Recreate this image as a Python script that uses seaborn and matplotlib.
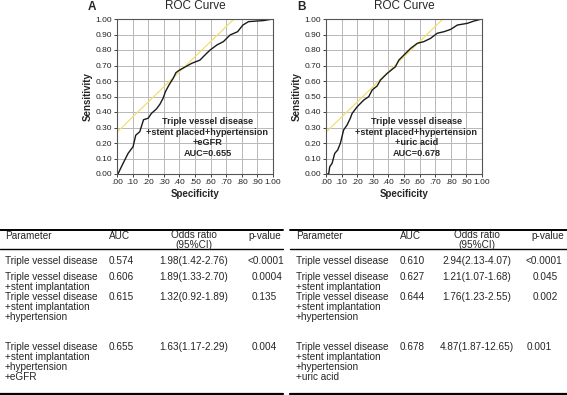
import numpy as np
import pandas as pd
import matplotlib
matplotlib.use("Agg")
import matplotlib.pyplot as plt
import seaborn as sns

sns.set_theme(style="white")
plt.rcParams['font.family'] = ['Liberation Sans', 'DejaVu Sans']

# ROC curve A (tvd + stent + hypertension + eGFR)
roc_a_x = [0.0, 0.006, 0.039, 0.071, 0.103, 0.12, 0.146, 0.17, 0.20, 0.22, 0.253, 0.275,
           0.296, 0.31, 0.333, 0.36, 0.378, 0.40, 0.436, 0.479, 0.532, 0.564, 0.597,
           0.64, 0.682, 0.725, 0.773, 0.807, 0.843, 0.94, 1.0]
roc_a_y = [0.0, 0.0, 0.069, 0.133, 0.176, 0.25, 0.273, 0.35, 0.36, 0.39, 0.42, 0.45,
           0.49, 0.53, 0.574, 0.617, 0.654, 0.67, 0.69, 0.714, 0.735, 0.768, 0.80,
           0.832, 0.854, 0.897, 0.918, 0.961, 0.983, 0.99, 1.0]
# ROC curve B (tvd + stent + hypertension + uric acid)
roc_b_x = [0.0, 0.017, 0.024, 0.039, 0.056, 0.075, 0.092, 0.113, 0.135, 0.156, 0.167,
           0.20, 0.242, 0.274, 0.296, 0.328, 0.349, 0.392, 0.445, 0.467, 0.51, 0.542,
           0.585, 0.627, 0.67, 0.713, 0.756, 0.799, 0.842, 0.906, 0.949, 1.0]
roc_b_y = [0.0, 0.0, 0.047, 0.069, 0.133, 0.155, 0.198, 0.284, 0.316, 0.36, 0.39,
           0.434, 0.477, 0.499, 0.542, 0.568, 0.606, 0.649, 0.692, 0.735, 0.778, 0.81,
           0.843, 0.854, 0.875, 0.908, 0.918, 0.933, 0.961, 0.972, 0.987, 1.0]
ref_x = [0.0, 0.75]
ref_y_a = [0.27, 1.0]
ref_y_b = [0.27, 1.0]

panel_letters = ["A", "B"]
panel_labels = ["Triple vessel disease\n+stent placed+hypertension\n+eGFR\nAUC=0.655",
                "Triple vessel disease\n+stent placed+hypertension\n+uric acid\nAUC=0.678"]
tick_vals = [i / 10 for i in range(11)]
x_tick_labels = [".00", ".10", ".20", ".30", ".40", ".50", ".60", ".70", ".80", ".90", "1.00"]
y_tick_labels = ["0.00", "0.10", "0.20", "0.30", "0.40", "0.50", "0.60", "0.70", "0.80", "0.90", "1.00"]

# Tables
header = ["Parameter", "AUC", "Odds ratio\n(95%CI)", "p-value"]
params = ["Triple vessel disease",
          "Triple vessel disease\n+stent implantation",
          "Triple vessel disease\n+stent implantation\n+hypertension"]
params_a = params + ["Triple vessel disease\n+stent implantation\n+hypertension\n+eGFR"]
params_b = params + ["Triple vessel disease\n+stent implantation\n+hypertension\n+uric acid"]
auc_a = ["0.574", "0.606", "0.615", "0.655"]
or_a = ["1.98(1.42-2.76)", "1.89(1.33-2.70)", "1.32(0.92-1.89)", "1.63(1.17-2.29)"]
p_a = ["<0.0001", "0.0004", "0.135", "0.004"]
auc_b = ["0.610", "0.627", "0.644", "0.678"]
or_b = ["2.94(2.13-4.07)", "1.21(1.07-1.68)", "1.76(1.23-2.55)", "4.87(1.87-12.65)"]
p_b = ["<0.0001", "0.045", "0.002", "0.001"]

W, H = 567, 395
fig = plt.figure(figsize=(W / 100, H / 100), dpi=100)

def px_axes(left, top, right, bottom):
    return fig.add_axes([left / W, 1 - bottom / H, (right - left) / W, (bottom - top) / H])

rocs = [(roc_a_x, roc_a_y, ref_y_a), (roc_b_x, roc_b_y, ref_y_b)]
lefts = [117, 326]
for i, (cx, cy, ry) in enumerate(rocs):
    ax = px_axes(lefts[i], 19, lefts[i] + 156, 174)
    df = pd.DataFrame({"x": cx, "y": cy})
    dref = pd.DataFrame({"x": ref_x, "y": ry})
    sns.lineplot(data=dref, x="x", y="y", ax=ax, color="#f0e070", lw=0.9,
                 sort=False, estimator=None)
    sns.lineplot(data=df, x="x", y="y", ax=ax, color="#1a1a1a", lw=1.0,
                 sort=False, estimator=None)
    ax.set_xlim(0, 1)
    ax.set_ylim(0, 1)
    ax.set_xticks(tick_vals)
    ax.set_yticks(tick_vals)
    ax.set_xticklabels(x_tick_labels, fontsize=6)
    ax.set_yticklabels(y_tick_labels, fontsize=6)
    ax.grid(True, color="#b8b8b8", lw=0.7)
    ax.set_axisbelow(True)
    ax.tick_params(axis="both", length=2, width=0.6, pad=1.5, direction="out",
                   bottom=True, left=True, colors="#222222")
    for s in ax.spines.values():
        s.set_color("#555555")
        s.set_linewidth(0.8)
    ax.set_xlabel("Specificity", fontsize=7, fontweight="bold", labelpad=2)
    ax.set_ylabel("Sensitivity", fontsize=7, fontweight="bold", labelpad=2)
    ax.set_title("ROC Curve", fontsize=8.5, pad=7)
    ax.text(0.58, 0.235, panel_labels[i], transform=ax.transAxes, ha="center", va="center",
            fontsize=6.6, fontweight="bold", linespacing=1.2)
    ax.text(-0.16, 1.08, panel_letters[i], transform=ax.transAxes, ha="center", va="center",
            fontsize=8.5, fontweight="bold")

# Table overlay
tab = fig.add_axes([0, 0, 1, 1])
tab.set_xlim(0, W)
tab.set_ylim(H, 0)
tab.axis("off")
tab.patch.set_alpha(0)

def draw_table(x0, x1, cols, pcols, plist, aucs, ors, ps):
    fs = 7.2
    tab.plot([x0, x1], [230, 230], color="black", lw=1.4)
    tab.plot([x0, x1], [248.5, 248.5], color="black", lw=1.0)
    tab.plot([x0, x1], [393.5, 393.5], color="black", lw=1.6)
    tab.text(cols[0], 236, header[0], fontsize=fs, va="center", ha="left")
    tab.text(cols[1], 236, header[1], fontsize=fs, va="center", ha="left")
    tab.text(cols[2], 240.5, header[2], fontsize=fs, va="center", ha="center", linespacing=1.0)
    tab.text(cols[3], 236, header[3], fontsize=fs, va="center", ha="left")
    row_centers = [261, 277, 298, 347]
    for r in range(4):
        top = row_centers[r] - 5.5
        tab.text(cols[0], top, plist[r], fontsize=fs, va="top", ha="left", linespacing=1.0)
        tab.text(cols[1], top, aucs[r], fontsize=fs, va="top", ha="left")
        tab.text(cols[2], top, ors[r], fontsize=fs, va="top", ha="center")
        tab.text(pcols[r], top, ps[r], fontsize=fs, va="top", ha="left")

draw_table(0, 283, [5, 109, 194, 248], [248, 252, 252, 252], params_a, auc_a, or_a, p_a)
draw_table(290, 567, [296, 400, 477, 531], [526, 533, 533, 527], params_b, auc_b, or_b, p_b)

fig.savefig("out.png", dpi=100)
